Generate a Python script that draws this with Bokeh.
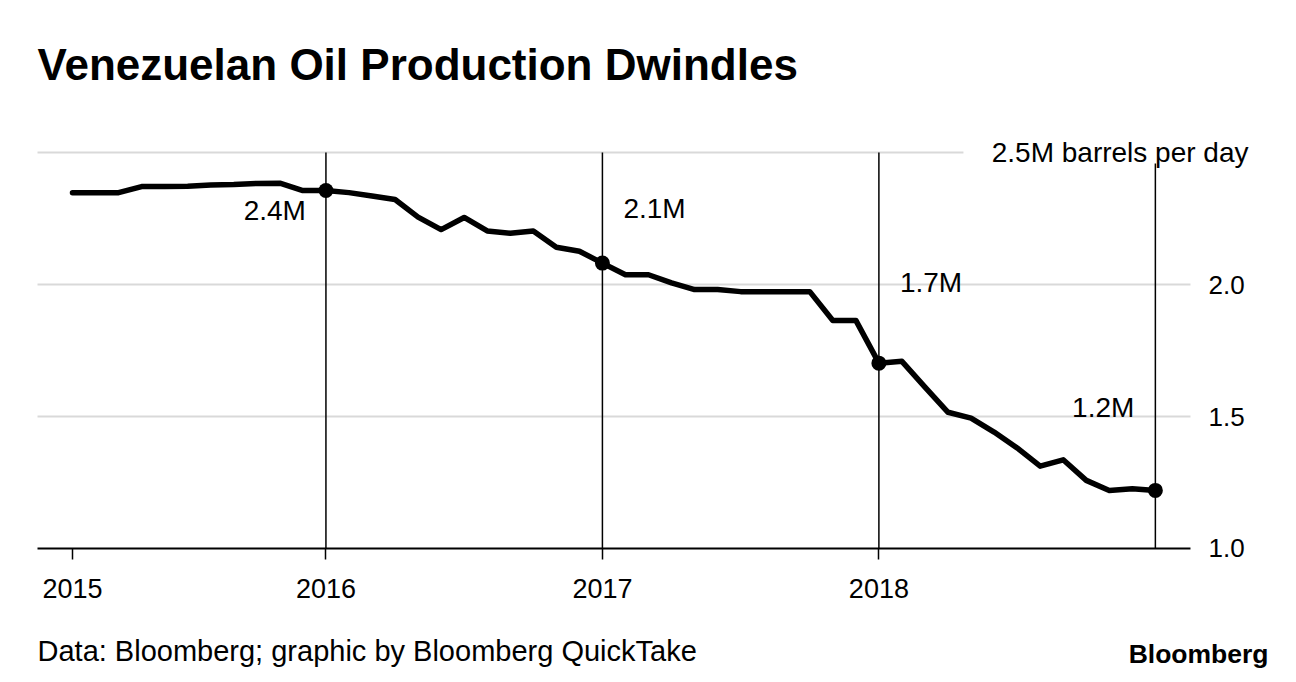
from bokeh.plotting import figure
from bokeh.layouts import column
from bokeh.models import Label, FixedTicker, Range1d, ColumnDataSource, NumeralTickFormatter
from bokeh.core.properties import value
from bokeh.embed import file_html
from bokeh.resources import INLINE

# ---- data (monthly, Jan 2015 .. Dec 2018), million barrels per day ----
month_idx = list(range(48))
production = [
    2.348, 2.348, 2.348, 2.371, 2.371, 2.372, 2.377, 2.379, 2.383, 2.384, 2.356, 2.356,
    2.348, 2.335, 2.322, 2.255, 2.208, 2.254, 2.203, 2.194, 2.203, 2.141, 2.126, 2.081,
    2.037, 2.037, 2.006, 1.981, 1.981, 1.973, 1.973, 1.973, 1.973, 1.864, 1.864, 1.702,
    1.709, 1.611, 1.516, 1.494, 1.441, 1.381, 1.312, 1.336, 1.258, 1.220, 1.226, 1.220,
]
year_tick_idx = [0, 11, 23, 35]
year_labels = ["2015", "2016", "2017", "2018"]
marker_idx = [11, 23, 35, 47]
marker_labels = ["2.4M", "2.1M", "1.7M", "1.2M"]
y_ticks = [1.0, 1.5, 2.0]
y_grid = [1.5, 2.0]
y_top = 2.5
y_top_label = "2.5M barrels per day"
title_text = "Venezuelan Oil Production Dwindles"
source_text = "Data: Bloomberg; graphic by Bloomberg QuickTake"
logo_text = "Bloomberg"

FONT = "Liberation Sans"
X0, X1 = -3.125, 51.997          # visible x span (month index), frame = canvas x 0..1270
X_LEFT = -1.519                  # where axis line / grid lines start
X_AXIS_END = 48.524              # where axis line / grid lines stop
X_TOPGRID_END = 38.67            # top grid line stops before its label
Y0, Y1 = 0.99242, 3.0758

p = figure(width=1296, height=620, output_backend="svg", toolbar_location=None,
           x_range=Range1d(X0, X1), y_range=Range1d(Y0, Y1),
           y_axis_location="right",
           min_border_left=0, min_border_right=26, min_border_top=0, min_border_bottom=70)
p.title.visible = False
p.outline_line_color = None
p.background_fill_color = "white"
p.border_fill_color = "white"
p.xgrid.visible = False
p.ygrid.visible = False

# grid lines
p.segment(x0=[X_LEFT] * len(y_grid), y0=y_grid, x1=[X_AXIS_END] * len(y_grid), y1=y_grid,
          line_color="#d9d9d9", line_width=2)
p.segment(x0=[X_LEFT], y0=[y_top], x1=[X_TOPGRID_END], y1=[y_top], line_color="#d9d9d9", line_width=2)
# baseline (x axis line)
p.segment(x0=[X_LEFT], y0=[1.0], x1=[X_AXIS_END], y1=[1.0], line_color="#000000", line_width=2)

# right axis
ya = p.yaxis[0]
ya.ticker = FixedTicker(ticks=y_ticks)
ya.formatter = NumeralTickFormatter(format="0.0")
ya.axis_line_color = None
ya.major_tick_line_color = None
ya.minor_tick_line_color = None
ya.major_tick_in = 0
ya.major_tick_out = 0
ya.major_label_standoff = -62
ya.major_label_text_font = FONT
ya.major_label_text_font_size = "26px"
ya.major_label_text_color = "#000000"

# bottom axis
xa = p.xaxis[0]
xa.ticker = FixedTicker(ticks=year_tick_idx)
xa.major_label_overrides = {t: l for t, l in zip(year_tick_idx, year_labels)}
xa.axis_line_color = None
xa.major_tick_line_color = "#000000"
xa.major_tick_line_width = 1.5
xa.major_tick_in = 2
xa.major_tick_out = 9
xa.minor_tick_line_color = None
xa.major_label_standoff = 19
xa.major_label_text_font = FONT
xa.major_label_text_font_size = "27px"
xa.major_label_text_color = "#000000"

# vertical year lines
marker_vals = [production[i] for i in marker_idx]
line_tops = [2.5, 2.5, 2.5, 2.458]
p.segment(x0=marker_idx, y0=[1.0] * 4, x1=marker_idx, y1=line_tops,
          line_color="#000000", line_width=1.5)

# main line
p.line(month_idx, production, line_color="#000000", line_width=5.5,
       line_join="round", line_cap="round")
p.scatter(marker_idx, marker_vals, size=15, fill_color="#000000", line_color=None)

# marker labels
lab_src = ColumnDataSource(dict(
    x=marker_idx, y=marker_vals, text=marker_labels,
    xo=[-20, 21, 21, -21], yo=[20, -55, -81, -83],
    align=["right", "left", "left", "right"],
))
p.text(x="x", y="y", text="text", x_offset="xo", y_offset="yo", text_align="align",
       text_baseline="alphabetic", text_font=value(FONT), text_font_size="28px",
       text_color="#000000", source=lab_src)

# unit label and title (screen units, relative to frame bottom-left)
p.add_layout(Label(x=1248, y=398, x_units="screen", y_units="screen", text=y_top_label,
                   text_align="right", text_baseline="alphabetic", text_font=FONT,
                   text_font_size="28px", text_color="#000000"))
p.add_layout(Label(x=37, y=486, x_units="screen", y_units="screen", text=title_text,
                   text_align="left", text_baseline="alphabetic", text_font=FONT,
                   text_font_size="44px", text_font_style="bold", text_color="#000000"))

# footer strip (its frame is aligned with the main frame: canvas x 0..1270)
f = figure(width=1296, height=62, output_backend="svg", toolbar_location=None,
           x_range=Range1d(0, 1270), y_range=Range1d(62, 0),
           x_axis_location=None, y_axis_location=None, min_border=0)
f.title.visible = False
f.outline_line_color = None
f.grid.visible = False
f.add_layout(Label(x=37, y=30, text=source_text, text_align="left", text_baseline="alphabetic",
                   text_font=FONT, text_font_size="29px", text_color="#000000"))
f.add_layout(Label(x=1268, y=33, text=logo_text, text_align="right", text_baseline="alphabetic",
                   text_font=FONT, text_font_size="26.5px", text_font_style="bold",
                   text_color="#000000"))

layout = column(p, f, spacing=0)
open("out.html", "w").write(file_html(layout, INLINE))
